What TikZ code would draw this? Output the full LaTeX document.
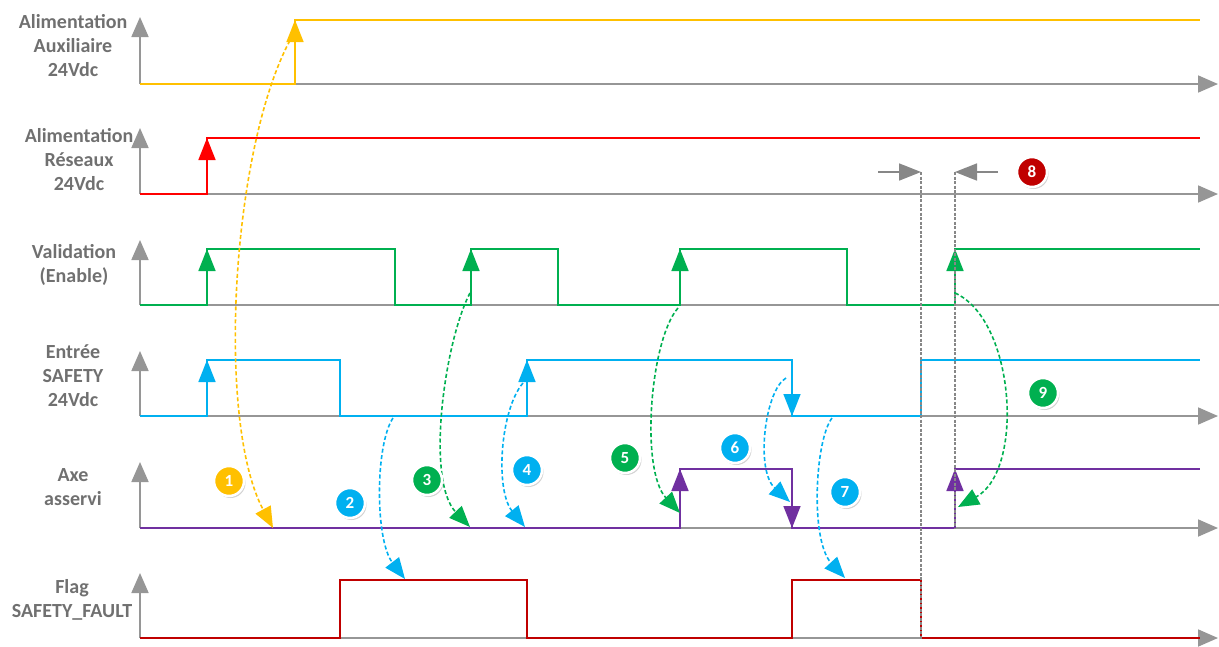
\documentclass[tikz,border=0pt]{standalone}
\usepackage{fontspec}
\setmainfont{Carlito}
\usetikzlibrary{arrows.meta, shadows}
\definecolor{axisgray}{RGB}{150,150,150}
\definecolor{labelgray}{RGB}{112,112,112}
\definecolor{auxorange}{RGB}{255,192,0}
\definecolor{netred}{RGB}{255,0,0}
\definecolor{enagreen}{RGB}{0,176,80}
\definecolor{safeblue}{RGB}{0,176,240}
\definecolor{axepurple}{RGB}{112,48,160}
\definecolor{flagred}{RGB}{192,0,0}
\tikzset{
  timeaxis/.style={line width=1.8pt, draw=axisgray, -{Triangle[length=20pt,width=17pt]}},
  sigline/.style={line width=1.6pt},
  flank/.style={line width=1.6pt, -{Triangle[length=22pt,width=17pt]}},
  link/.style={line width=1.6pt, dash pattern=on 4pt off 2.5pt, -{Triangle[length=21pt,width=17pt]}},
  guide/.style={line width=2.6pt, draw=axisgray!90!black, dash pattern=on 3pt off 1.5pt},
  hint/.style={line width=1.8pt, draw=axisgray!90!black, -{Triangle[length=22pt,width=17pt]}},
  rowlabel/.style={font=\bfseries\fontsize{20}{24}\selectfont, text=labelgray, align=center, inner sep=0pt},
  badge/.style={circle, minimum size=30pt, inner sep=0pt, draw=white, line width=2.5pt, text=white,
    font=\bfseries\fontsize{17}{17}\selectfont, drop shadow={shadow xshift=1.5pt, shadow yshift=-2pt, opacity=0.35}}
}
\begin{document}
\begin{tikzpicture}[x=1pt, y=-1pt]
  \useasboundingbox (0,0) rectangle (1219,646);

  % row labels
  \node (lblaux) [rowlabel] at (73,46) {Alimentation\\Auxiliaire\\24Vdc};
  \node (lblnet) [rowlabel] at (79,160) {Alimentation\\Réseaux\\24Vdc};
  \node (lblena) [rowlabel] at (74,265) {Validation\\(Enable)};
  \node (lblsafe) [rowlabel] at (73,376) {Entrée\\SAFETY\\24Vdc};
  \node (lblaxe) [rowlabel] at (73,487) {Axe\\asservi};
  \node (lblflag) [rowlabel] at (72,600) {Flag\\SAFETY\_FAULT};

  % axes
  \draw [timeaxis] (140,84) -- (140,17);
  \draw [timeaxis] (140,84) -- (1218,84);
  \draw [timeaxis] (140,194) -- (140,128);
  \draw [timeaxis] (140,194) -- (1218,194);
  \draw [timeaxis] (140,305) -- (140,240);
  \draw [line width=1.8pt, draw=axisgray] (140,305) -- (1219,305);
  \draw [timeaxis] (140,416) -- (140,351);
  \draw [timeaxis] (140,416) -- (1218,416);
  \draw [timeaxis] (140,528) -- (140,462);
  \draw [timeaxis] (140,528) -- (1218,528);
  \draw [timeaxis] (140,638) -- (140,573);
  \draw [timeaxis] (140,638) -- (1218,638);

  % signals
  \draw [sigline, auxorange] (140,84) -- (295,84) -- (295,20) -- (1200,20);
  \draw [flank, auxorange] (295,84) -- (295,20);
  \draw [sigline, netred] (140,194) -- (207,194) -- (207,138) -- (1200,138);
  \draw [flank, netred] (207,194) -- (207,138);
  \draw [sigline, enagreen] (140,305) -- (207,305) -- (207,249) -- (395,249) -- (395,305) -- (471,305)
    -- (471,249) -- (558,249) -- (558,305) -- (680,305) -- (680,249) -- (847,249) -- (847,305)
    -- (955,305) -- (955,249) -- (1200,249);
  \draw [flank, enagreen] (207,305) -- (207,249);
  \draw [flank, enagreen] (471,305) -- (471,249);
  \draw [flank, enagreen] (680,305) -- (680,249);
  \draw [flank, enagreen] (955,305) -- (955,249);
  \draw [sigline, safeblue] (140,416) -- (207,416) -- (207,360) -- (340,360) -- (340,416) -- (527,416)
    -- (527,360) -- (792,360) -- (792,416) -- (921,416) -- (921,360) -- (1200,360);
  \draw [flank, safeblue] (207,416) -- (207,360);
  \draw [flank, safeblue] (527,416) -- (527,360);
  \draw [flank, safeblue] (792,360) -- (792,416);
  \draw [sigline, axepurple] (140,528) -- (680,528) -- (680,469) -- (792,469) -- (792,528) -- (955,528)
    -- (955,469) -- (1200,469);
  \draw [flank, axepurple] (680,528) -- (680,469);
  \draw [flank, axepurple] (792,469) -- (792,528);
  \draw [flank, axepurple] (955,528) -- (955,469);
  \draw [sigline, flagred] (140,638) -- (340,638) -- (340,580) -- (527,580) -- (527,638) -- (792,638)
    -- (792,580) -- (921,580) -- (921,638) -- (1200,638);

  % delay markers
  \coordinate (g1top) at (921,172);
  \coordinate (g1bot) at (921,640);
  \coordinate (g2top) at (955,172);
  \coordinate (g2bot) at (955,528);
  \coordinate (h1) at (878,172);
  \coordinate (h2) at (998,172);
  \draw [guide] (g1top) -- (g1bot);
  \draw [guide] (g2top) -- (g2bot);
  \draw [hint] (h1) -- (g1top);
  \draw [hint] (h2) -- (g2top);

  % cause -> effect links
  \coordinate (c1s) at (293,35);
  \coordinate (c1e) at (273,528);
  \coordinate (c2s) at (393,418);
  \coordinate (c2e) at (405,579);
  \coordinate (c3s) at (470,293);
  \coordinate (c3e) at (470,527);
  \coordinate (c4s) at (523,383);
  \coordinate (c4e) at (525,527);
  \coordinate (c5s) at (678,308);
  \coordinate (c5e) at (680,513);
  \coordinate (c6s) at (786,378);
  \coordinate (c6e) at (790,502);
  \coordinate (c7s) at (832,418);
  \coordinate (c7e) at (845,578);
  \coordinate (c9s) at (955,293);
  \coordinate (c9e) at (958,507);
  \draw [link, auxorange] (c1s) .. controls (232,140) and (215,420) .. (c1e);
  \draw [link, safeblue] (c2s) .. controls (375,445) and (375,540) .. (c2e);
  \draw [link, enagreen] (c3s) .. controls (445,340) and (425,480) .. (c3e);
  \draw [link, safeblue] (c4s) .. controls (500,410) and (495,490) .. (c4e);
  \draw [link, enagreen] (c5s) .. controls (650,340) and (640,470) .. (c5e);
  \draw [link, safeblue] (c6s) .. controls (765,390) and (755,470) .. (c6e);
  \draw [link, safeblue] (c7s) .. controls (815,440) and (810,540) .. (c7e);
  \draw [link, enagreen] (c9s) .. controls (1015,320) and (1025,470) .. (c9e);

  % numbered badges
  \node (b1) [badge, fill=auxorange] at (229,481) {1};
  \node (b2) [badge, fill=safeblue] at (350,503) {2};
  \node (b3) [badge, fill=enagreen] at (427,480) {3};
  \node (b4) [badge, fill=safeblue] at (527,470) {4};
  \node (b5) [badge, fill=enagreen] at (625,458) {5};
  \node (b6) [badge, fill=safeblue] at (735,448) {6};
  \node (b7) [badge, fill=safeblue] at (845,492) {7};
  \node (b8) [badge, fill=flagred] at (1032,172) {8};
  \node (b9) [badge, fill=enagreen] at (1043,393) {9};

\end{tikzpicture}
\end{document}
